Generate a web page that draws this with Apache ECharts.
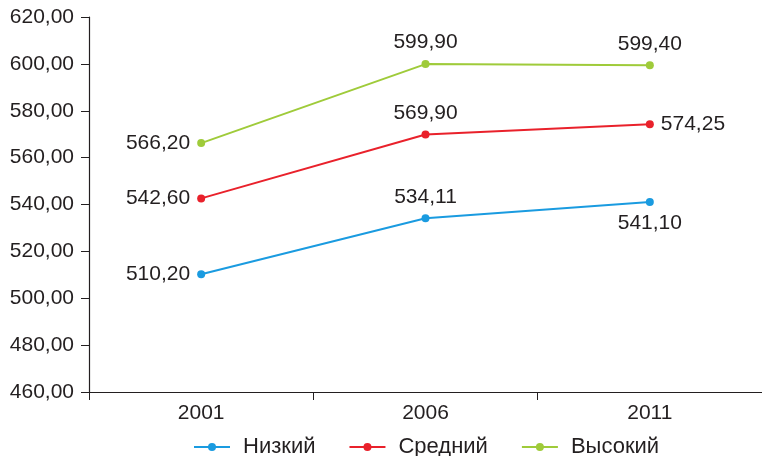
<!DOCTYPE html>
<html><head><meta charset="utf-8">
<script src="https://cdn.jsdelivr.net/npm/echarts@6/dist/echarts.min.js"></script>
<style>html,body{margin:0;padding:0;background:#fff}#c{width:762px;height:456px}</style>
</head><body><div id="c"></div>
<script>
const categories = ['2001', '2006', '2011'];
const seriesNames = ['Низкий', 'Средний', 'Высокий'];
const low = [510.20, 534.11, 541.10];
const mid = [542.60, 569.90, 574.25];
const high = [566.20, 599.90, 599.40];
const colors = ['#1a9be0', '#e9212b', '#9fcb3a'];
const lowPos = ['left', 'top', 'bottom'];
const midPos = ['left', 'top', 'right'];
const highPos = ['left', 'top', 'top'];
const fmt = v => Number(v).toFixed(2).replace('.', ',');
const FONT = 'Liberation Sans, Arial, sans-serif';
const TXT = '#231f20';

function mk(name, data, color, pos) {
  return {
    name, type: 'line',
    symbol: 'circle', symbolSize: 8,
    lineStyle: { width: 2, color }, itemStyle: { color },
    label: {
      show: true,
      formatter: p => fmt(p.value),
      position: 'top',
      fontSize: 21, fontFamily: FONT, color: TXT, distance: 7
    },
    data: data.map((v, i) => ({ value: v, label: { position: pos[i] } }))
  };
}

const chart = echarts.init(document.getElementById('c'));
chart.setOption({
  animation: false,
  grid: { left: 89, right: 0, top: 17, bottom: 64, containLabel: false },
  legend: {
    top: 436, left: 193, padding: 0,
    itemWidth: 36, itemHeight: 10, itemGap: 33,
    textStyle: { fontSize: 22, fontFamily: FONT, color: TXT, padding: [0, 0, 0, 8] },
    data: seriesNames
  },
  xAxis: {
    type: 'category', data: categories, boundaryGap: true,
    axisLine: { lineStyle: { color: TXT, width: 1.2 } },
    axisTick: { show: true, length: 8, lineStyle: { color: TXT } },
    axisLabel: { fontSize: 21, fontFamily: FONT, color: TXT, margin: 11 }
  },
  yAxis: {
    type: 'value', min: 460, max: 620, interval: 20,
    splitLine: { show: false },
    axisLine: { show: true, lineStyle: { color: TXT, width: 1.2 } },
    axisTick: { show: true, length: 8, lineStyle: { color: TXT } },
    axisLabel: { fontSize: 21, fontFamily: FONT, color: TXT, margin: 15, formatter: v => fmt(v) }
  },
  color: colors,
  series: [mk(seriesNames[0], low, colors[0], lowPos), mk(seriesNames[1], mid, colors[1], midPos), mk(seriesNames[2], high, colors[2], highPos)]
});
</script></body></html>
